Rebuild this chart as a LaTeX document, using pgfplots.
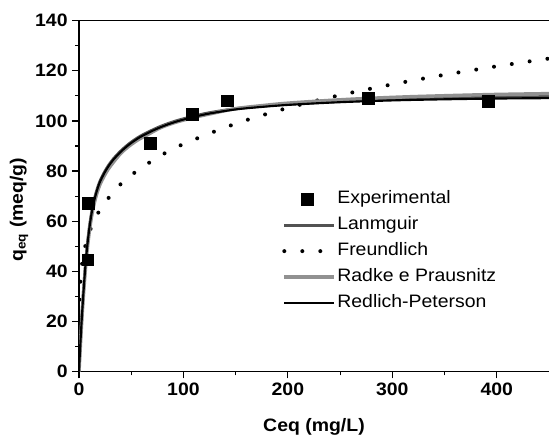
\documentclass[border=0pt]{standalone}
\usepackage{fontspec}
\setmainfont{Liberation Sans}[FakeStretch=1.08]
\usepackage{pgfplots}
\pgfplotsset{compat=1.18}
\pgfplotsset{
  lineleg/.style={legend image code/.code={\draw[mark repeat=2,mark phase=2,##1] (0pt,0pt) -- (37.5pt,0pt);}},
  markleg/.style={legend image code/.code={\draw[##1] plot coordinates {(17pt,0pt)};}},
}

% measured uptake, Ceq in mg/L, q in meq/g
\pgfplotstableread{
C q
8.4 44.6
8.8 67.3
68.5 91.2
108.3 102.8
142.0 108.1
277.3 109.1
391.6 107.9
}\experimental

% fitted isotherms: Redlich-Peterson, Langmuir, Radke-Prausnitz
\pgfplotstableread{
C rp lang radke
0 0 0 0
0.5 4.5 4.7 4.1
1 8.8 9.1 8.0
2 16.5 16.8 15.7
3 23.5 23.8 22.7
4 30.0 30.3 29.2
5 36.0 36.3 34.8
6.4 43.5 43.8 42.3
8 50.5 50.8 49.3
10 57.5 57.8 56.3
12 63.0 63.3 61.8
14 67.3 67.6 66.1
17 72.0 72.3 71.0
20 75.6 75.9 74.6
24 79.0 79.3 78.0
28 81.8 82.1 80.8
33 84.6 84.9 83.6
40 87.7 88.0 87.1
48 90.6 90.9 90.0
57 93.2 93.5 92.6
66 95.2 95.5 94.6
78 97.5 97.8 97.3
92 99.6 99.9 99.4
108 101.4 101.7 101.2
124 102.9 103.2 102.7
150 104.6 104.9 104.9
175 105.6 105.9 106.1
200 106.4 106.7 107.1
240 107.3 107.6 108.2
277 107.9 108.3 109.0
320 108.4 108.9 109.7
391 108.9 109.45 110.5
450 109.1 109.7 110.9
}\fits

% Freundlich isotherm
\pgfplotstableread{
C q
0 0
0.001 7.9
0.01 12.9
0.05 18.1
0.2 24.3
0.5 29.5
1 34.2
2 39.6
4 45.9
7 51.7
12 57.9
20 64.5
35 72.7
50 78.4
75 85.4
100 90.8
150 98.9
200 105.2
250 110.3
300 114.6
350 118.4
400 121.8
450 124.9
}\freundlich

\begin{document}
\begin{tikzpicture}
\begin{axis}[
  scale only axis,
  width=352.5pt, height=263.25pt,
  xmin=0, xmax=450, ymin=0, ymax=140,
  separate axis lines,
  axis x line*=box, axis y line*=left,
  axis line style={line width=0.9pt, black},
  xtick={0,100,200,300,400}, ytick={0,20,...,140},
  minor x tick num=1, minor y tick num=1,
  xtick pos=bottom, ytick pos=left,
  tick align=outside,
  major tick length=5pt, minor tick length=2.8pt,
  tick style={line width=0.9pt, black},
  /pgf/number format/assume math mode=true,
  ticklabel style={font=\bfseries\fontsize{13.5}{16}\selectfont},
  xlabel={\bfseries Ceq (mg/L)},
  xlabel style={font=\fontsize{13.5}{16}\selectfont, at={(rel axis cs:0.5,0)}, anchor=base, yshift=-45pt},
  legend cell align=left,
  legend style={draw=none, fill=none, inner sep=0pt,
    at={(rel axis cs:0.432,0.517)}, anchor=north west,
    font=\fontsize{13.5}{16}\selectfont,
    nodes={inner sep=0pt, text height=10pt, text depth=3pt},
    row sep=6.5pt,
    /tikz/every odd column/.append style={column sep=0.8pt}},
]
\addplot[only marks, mark=square*, mark size=4.4pt, black, markleg]
  table[x=C,y=q] {\experimental};
\addlegendentry{Experimental}

\addplot[smooth, line width=2.2pt, color=black!68, lineleg] table[x=C,y=lang] {\fits};
\addlegendentry{Lanmguir}

\addplot[smooth, line width=3pt, black, line cap=round, dash pattern=on 0pt off 13.5pt, lineleg] table[x=C,y=q] {\freundlich};
\addlegendentry{Freundlich}

\addplot[smooth, line width=2.6pt, color=black!43, lineleg] table[x=C,y=radke] {\fits};
\addlegendentry{Radke e Prausnitz}

\addplot[smooth, line width=1.6pt, black, lineleg] table[x=C,y=rp] {\fits};
\addlegendentry{Redlich-Peterson}

\coordinate (SW) at (rel axis cs:0,0);
\coordinate (NE) at (rel axis cs:1,1);
\coordinate (YL) at (rel axis cs:0,0.4615);
\end{axis}
\node[rotate=90, font=\bfseries\fontsize{13.5}{16}\selectfont] at ([xshift=-45pt]YL) {q\textsubscript{eq} (meq/g)};
\pgfresetboundingbox
\path[use as bounding box] ([xshift=-59.25pt,yshift=-49.9pt]SW) rectangle ([yshift=15.5pt]NE);
\end{tikzpicture}
\end{document}
